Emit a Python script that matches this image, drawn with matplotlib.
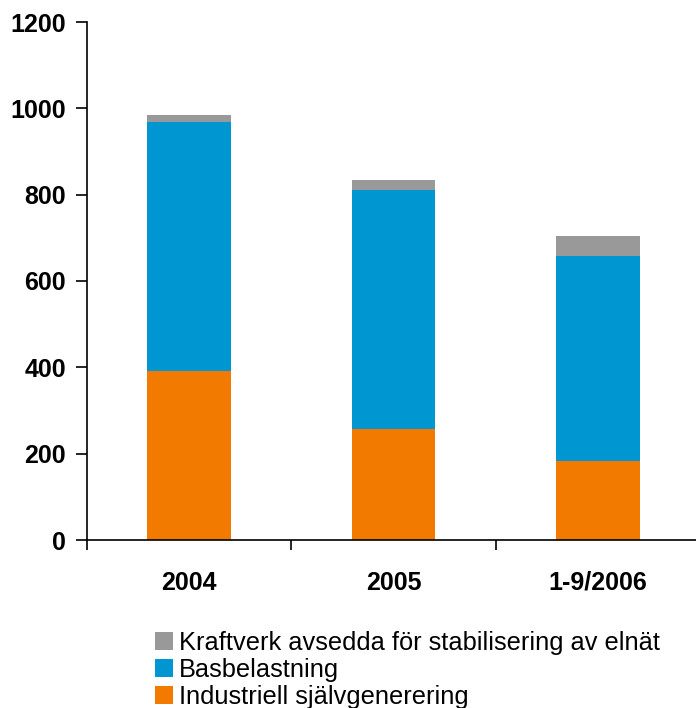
import matplotlib.pyplot as plt
from matplotlib.patches import Patch

# data
categories = ["2004", "2005", "1-9/2006"]
industriell = [392, 256, 184]
basbelastning = [576, 555, 474]
stabilisering = [16, 23, 46]

series_labels = [
    "Industriell självgenerering",
    "Basbelastning",
    "Kraftverk avsedda för stabilisering av elnät",
]
colors = ["#F27A00", "#0096D2", "#999999"]

y_ticks = [0, 200, 400, 600, 800, 1000, 1200]

plt.rcParams["font.family"] = ["Liberation Sans", "DejaVu Sans"]

fig = plt.figure(figsize=(6.96, 7.08), dpi=100)
ax = fig.add_axes([87 / 696, 1 - 540 / 708, 613 / 696, 518 / 708])

x = [i + 0.5 for i in range(len(categories))]
bottom = [0] * len(categories)
for vals, col in zip([industriell, basbelastning, stabilisering], colors):
    ax.bar(x, vals, width=0.41, bottom=bottom, color=col, linewidth=0)
    bottom = [b + v for b, v in zip(bottom, vals)]

ax.set_xlim(0, len(categories))
ax.set_ylim(0, 1200)
ax.set_yticks(y_ticks)
ax.set_yticklabels([str(t) for t in y_ticks], fontsize=18, fontweight="bold")

# category boundaries as major ticks, labels on minor ticks
ax.set_xticks(range(len(categories) + 1))
ax.set_xticklabels([])
ax.set_xticks(x, minor=True)
ax.set_xticklabels(categories, minor=True, fontsize=18, fontweight="bold")
ax.tick_params(axis="x", which="major", direction="out", length=7, width=1.2)
ax.tick_params(axis="x", which="minor", length=0, pad=22)
ax.tick_params(axis="y", direction="out", length=8, width=1.2, pad=7)

for side in ["top", "right"]:
    ax.spines[side].set_visible(False)
for side in ["left", "bottom"]:
    ax.spines[side].set_linewidth(1.2)

handles = [Patch(facecolor=c, edgecolor="none") for c in colors][::-1]
fig.legend(
    handles,
    series_labels[::-1],
    loc="upper left",
    bbox_to_anchor=(155 / 696, 1 - 631 / 708),
    frameon=False,
    fontsize=18.3,
    handlelength=0.7,
    handleheight=0.7,
    handletextpad=0.25,
    labelspacing=0.12,
    borderpad=0,
    borderaxespad=0,
)

fig.savefig("out.png", dpi=100)
